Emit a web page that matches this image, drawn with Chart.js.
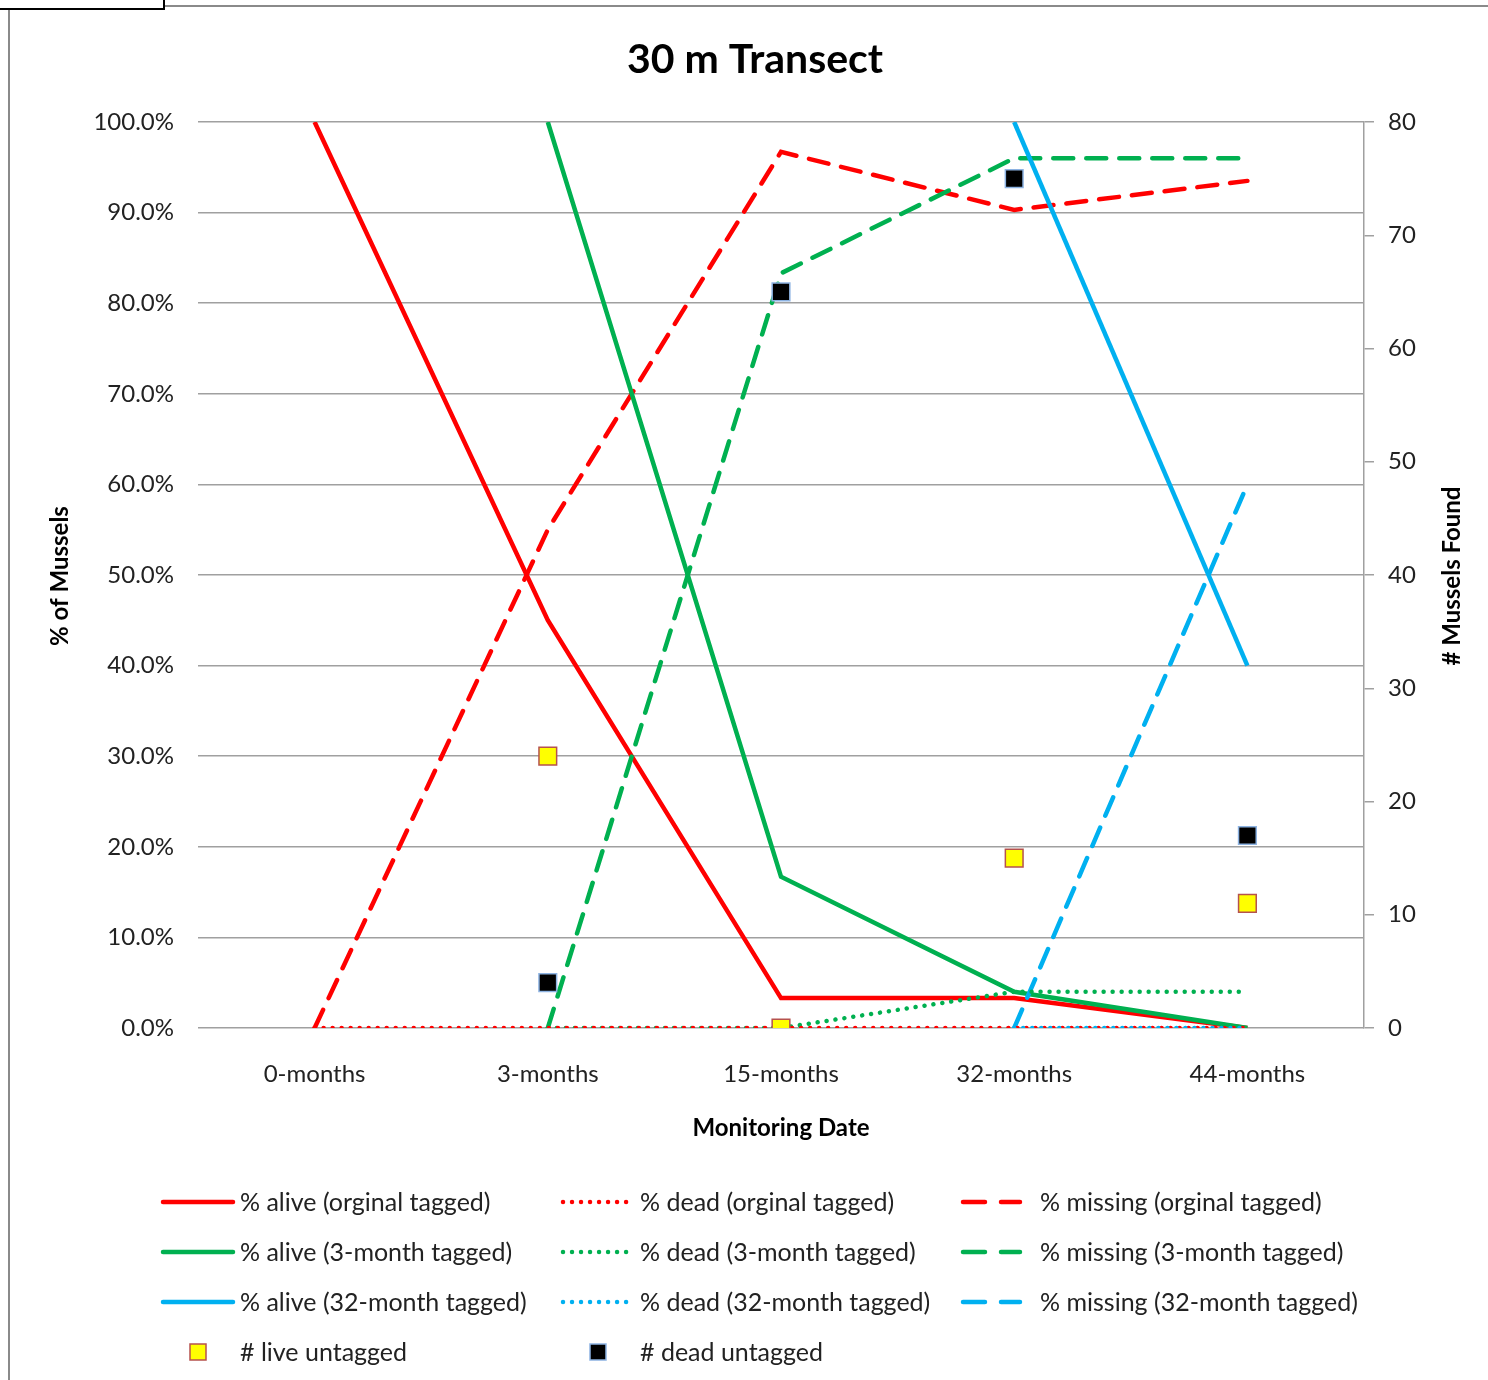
<!DOCTYPE html>
<html><head><meta charset="utf-8">
<script src="https://cdn.jsdelivr.net/npm/chart.js@4/dist/chart.umd.min.js"></script>
<style>
html,body{margin:0;padding:0;background:#fff;}
#wrap{position:relative;width:1488px;height:1380px;overflow:hidden;}
#frame{position:absolute;left:8px;top:5px;width:1490px;height:1400px;border-left:2px solid #8a8a8a;border-top:2px solid #8a8a8a;}
#tab{position:absolute;left:-2px;top:-2px;width:163px;height:8px;border:2px solid #000;background:#fff;}
canvas{position:absolute;left:0;top:0;}
</style></head>
<body><div id="wrap"><div id="frame"></div><div id="tab"></div><canvas id="c" width="1488" height="1380"></canvas></div>
<script>
const categories = ['0-months','3-months','15-months','32-months','44-months'];
const aliveOrig   = [100, 45, 3.3, 3.3, 0];
const deadOrig    = [0, 0, 0, 0, 0];
const missingOrig = [0, 55, 96.7, 90.3, 93.5];
const alive3      = [null, 100, 16.7, 4.0, 0];
const dead3       = [null, 0, 0, 4.0, 4.0];
const missing3    = [null, 0, 83.3, 96.0, 96.0];
const alive32     = [null, null, null, 100, 40];
const dead32      = [null, null, null, 0, 0];
const missing32   = [null, null, null, 0, 60];
const liveUntagged = [null, 24, 0, 15, 11];
const deadUntagged = [null, 4, 65, 75, 17];
const leftTicks = [0,10,20,30,40,50,60,70,80,90,100];
const rightTicks = [0,10,20,30,40,50,60,70,80];

const RED='#ff0000', GREEN='#00b050', BLUE='#00b0f0';
const FONT = 'Lato, "Open Sans", sans-serif';
const SOLID=[], DOT=[0.01,9], DASH=[20,13];

function lineDs(label, data, color, dash, order){
  return {label, data, borderColor:color, backgroundColor:color, borderWidth:4.5,
    borderDash:dash, borderCapStyle: dash===SOLID ? 'butt' : 'round', pointRadius:0, pointHoverRadius:0,
    tension:0, fill:false, yAxisID:'y', order, legendStyle:dash};
}
const datasets = [
  lineDs('% alive (orginal tagged)', aliveOrig, RED, SOLID, 10),
  lineDs('% dead (orginal tagged)', deadOrig, RED, DOT, 5),
  lineDs('% missing (orginal tagged)', missingOrig, RED, DASH, 10),
  lineDs('% alive (3-month tagged)', alive3, GREEN, SOLID, 9),
  lineDs('% dead (3-month tagged)', dead3, GREEN, DOT, 6),
  lineDs('% missing (3-month tagged)', missing3, GREEN, DASH, 9),
  lineDs('% alive (32-month tagged)', alive32, BLUE, SOLID, 8),
  lineDs('% dead (32-month tagged)', dead32, BLUE, DOT, 4),
  lineDs('% missing (32-month tagged)', missing32, BLUE, DASH, 8),
  {label:'# live untagged', data:liveUntagged, showLine:false, yAxisID:'y2', pointStyle:'rect',
   pointRadius:12.5, pointHoverRadius:12.5, pointBackgroundColor:'#ffff00', pointBorderColor:'#b5524e', pointBorderWidth:1.5, backgroundColor:'#ffff00', borderColor:'#b5524e', order:1},
  {label:'# dead untagged', data:deadUntagged, showLine:false, yAxisID:'y2', pointStyle:'rect',
   pointRadius:12.5, pointHoverRadius:12.5, pointBackgroundColor:'#000000', pointBorderColor:'#8db3e2', pointBorderWidth:1.5, backgroundColor:'#000', borderColor:'#8db3e2', order:0}
];

const overlay = {
  id:'overlay',
  afterDraw(chart){
    const ctx = chart.ctx;
    ctx.save();
    ctx.fillStyle='#000';
    ctx.font = 'bold 41px ' + FONT;
    ctx.textAlign='center'; ctx.textBaseline='middle';
    ctx.fillText('30 m Transect', 755, 60);
    // axis titles
    ctx.font = 'bold 24px ' + FONT;
    ctx.fillText('Monitoring Date', 781, 1128);
    ctx.save(); ctx.translate(60, 576); ctx.rotate(-Math.PI/2); ctx.fillText('% of Mussels', 0, 0); ctx.restore();
    ctx.save(); ctx.translate(1452, 576); ctx.rotate(-Math.PI/2); ctx.fillText('# Mussels Found', 0, 0); ctx.restore();
    // legend
    const ds = chart.data.datasets;
    const colX = [163, 563, 963];
    const sampleW = [70, 67, 57];
    const textX = [240, 640, 1040];
    const rowY = [1202, 1252, 1302];
    ctx.font = '25px ' + FONT;
    ctx.textAlign='left';
    for (let i=0;i<9;i++){
      const r = Math.floor(i/3), c = i%3, d = ds[i];
      const y = rowY[r];
      ctx.save();
      ctx.strokeStyle = d.borderColor; ctx.lineWidth = 4.5;
      ctx.setLineDash(d.legendStyle === DASH ? [22,16] : d.legendStyle);
      ctx.lineCap = 'round';
      ctx.beginPath(); ctx.moveTo(colX[c], y); ctx.lineTo(colX[c]+sampleW[c], y); ctx.stroke();
      ctx.restore();
      ctx.fillStyle='#222';
      ctx.fillText(d.label, textX[c], y+1);
    }
    const mk = [[9,198,240],[10,598,640]];
    for (const [idx,mx,tx] of mk){
      const d = ds[idx];
      ctx.fillStyle = d.pointBackgroundColor; ctx.strokeStyle = d.pointBorderColor; ctx.lineWidth=1.5;
      ctx.fillRect(mx-8, 1352-8, 16, 16); ctx.strokeRect(mx-8, 1352-8, 16, 16);
      ctx.fillStyle='#222';
      ctx.fillText(d.label, tx, 1353);
    }
    ctx.restore();
  }
};

new Chart(document.getElementById('c'), {
  type:'line',
  data:{labels:categories, datasets},
  plugins:[overlay],
  options:{
    responsive:false, animation:false, devicePixelRatio:1,
    layout:{padding:{top:122,bottom:222,left:0,right:0}},
    plugins:{legend:{display:false}, tooltip:{enabled:false}, title:{display:false}},
    scales:{
      x:{type:'category', offset:true,
        grid:{display:false, drawTicks:false}, border:{display:false},
        ticks:{color:'#222', font:{family:FONT,size:24}, padding:32, maxRotation:0},
        afterFit(s){ s.height = 130; }
      },
      y:{position:'left', min:0, max:100,
        afterBuildTicks(s){ s.ticks = leftTicks.map(v=>({value:v})); },
        ticks:{color:'#222', font:{family:FONT,size:24}, padding:24, callback:v=>v.toFixed(1)+'%'},
        grid:{color:'#a0a0a0', lineWidth:1.5, drawTicks:false},
        border:{display:false},
        afterFit(s){ s.width = 198; }
      },
      y2:{position:'right', min:0, max:80,
        afterBuildTicks(s){ s.ticks = rightTicks.map(v=>({value:v})); },
        ticks:{color:'#222', font:{family:FONT,size:24}, padding:14},
        grid:{drawOnChartArea:false, drawTicks:true, tickLength:10, color:'#a0a0a0', lineWidth:1.5},
        border:{display:true, color:'#a0a0a0', width:1.5},
        afterFit(s){ s.width = 124; }
      }
    }
  }
});
</script></body></html>
